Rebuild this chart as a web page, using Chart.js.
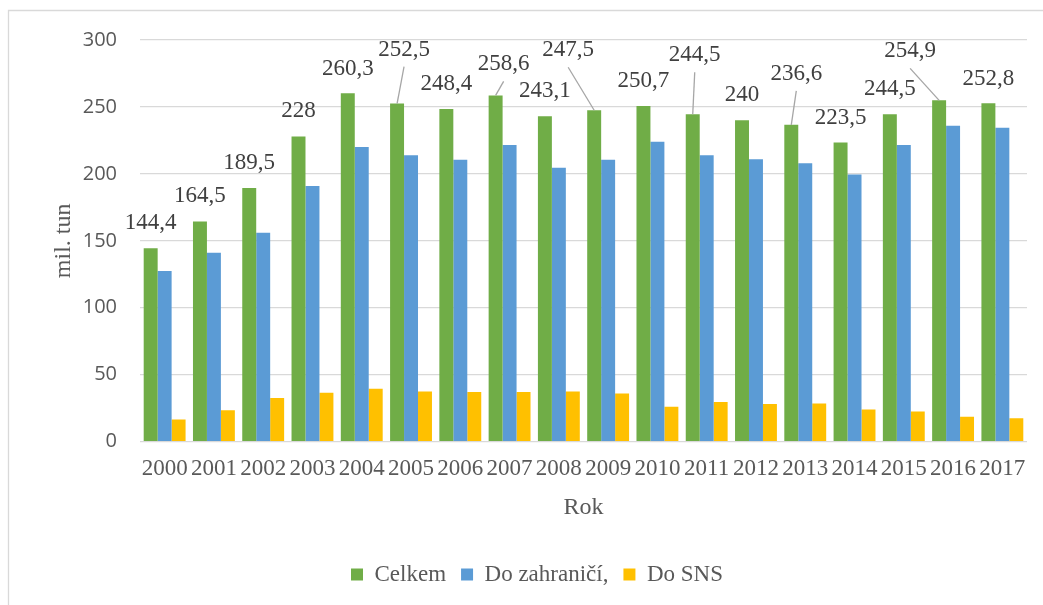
<!DOCTYPE html>
<html>
<head>
<meta charset="utf-8">
<script src="https://cdn.jsdelivr.net/npm/chart.js@4/dist/chart.umd.min.js"></script>
<style>
html,body{margin:0;padding:0;background:#fff;}
canvas{display:block;}
</style>
</head>
<body>
<canvas id="c" width="1043" height="605"></canvas>
<script>
const years = ["2000","2001","2002","2003","2004","2005","2006","2007","2008","2009","2010","2011","2012","2013","2014","2015","2016","2017"];
const celkem = [144.4,164.5,189.5,228,260.3,252.5,248.4,258.6,243.1,247.5,250.7,244.5,240,236.6,223.5,244.5,254.9,252.8];
const doZahranici = [127.5,141,156,191,220,214,210.5,221.5,204.5,210.5,224,214,211,208,199.5,221.5,236,234.5];
const doSNS = [16.5,23.5,32.5,36.5,39.5,37.5,37,37,37.5,36,26,29.5,28,28.5,24,22.5,18.5,17.5];
const yTicks = [0,50,100,150,200,250,300];
const seriesNames = ["Celkem","Do zahraničí,","Do SNS"];

// label offsets (px) relative to the top centre of each "Celkem" bar; leader = draw a leader line
const labelDx = [0,0,0,0,0,7,0,8,0,-26,0,2,0,5,0,0,-29,0];
const labelDy = [-25,-25,-25,-25,-24,-54,-25,-31,-25,-60,-25,-59,-25,-51,-24,-25,-49,-24];
const leader  = [0,0,0,0,0,1,0,1,0,1,0,1,0,1,0,0,1,0];

const SERIF = "'Liberation Serif', 'Times New Roman', serif";
const SANS = "'Open Sans', 'Liberation Sans', sans-serif";

const framePlugin = {
  id: 'frame',
  beforeDraw(chart) {
    const ctx = chart.ctx;
    ctx.save();
    ctx.strokeStyle = '#d9d9d9';
    ctx.lineWidth = 1.3;
    ctx.beginPath();
    ctx.moveTo(8.5, 700);
    ctx.lineTo(8.5, 10.5);
    ctx.lineTo(1100, 10.5);
    ctx.stroke();
    ctx.restore();
  }
};

const labelPlugin = {
  id: 'barLabels',
  afterDatasetsDraw(chart) {
    const ctx = chart.ctx;
    const meta = chart.getDatasetMeta(0);
    ctx.save();
    ctx.font = "23px " + SERIF;
    ctx.fillStyle = '#404040';
    ctx.textAlign = 'center';
    ctx.textBaseline = 'middle';
    meta.data.forEach((bar, i) => {
      const x = bar.x, y = bar.y;
      const lx = x + labelDx[i], ly = y + labelDy[i];
      if (leader[i]) {
        ctx.strokeStyle = '#a6a6a6';
        ctx.lineWidth = 1.3;
        ctx.beginPath();
        ctx.moveTo(x, y);
        ctx.lineTo(lx, ly + 17);
        ctx.stroke();
      }
      ctx.fillText(String(celkem[i]).replace('.', ','), lx, ly);
    });
    ctx.restore();
  }
};

new Chart(document.getElementById('c'), {
  type: 'bar',
  data: {
    labels: years,
    datasets: [
      {label: seriesNames[0], data: celkem, backgroundColor: '#70ad47'},
      {label: seriesNames[1], data: doZahranici, backgroundColor: '#5b9bd5'},
      {label: seriesNames[2], data: doSNS, backgroundColor: '#ffc000'}
    ]
  },
  options: {
    responsive: false,
    animation: false,
    devicePixelRatio: 1,
    datasets: {bar: {categoryPercentage: 0.85, barPercentage: 1.0}},
    layout: {padding: {top: 40, left: 47, right: 16, bottom: 9}},
    plugins: {
      tooltip: {enabled: false},
      legend: {
        position: 'bottom',
        labels: {
          boxWidth: 12, boxHeight: 12, padding: 15,
          color: '#595959',
          font: {family: SERIF, size: 23}
        }
      }
    },
    scales: {
      x: {
        grid: {display: false, drawTicks: false},
        border: {display: false},
        ticks: {
          autoSkip: false, maxRotation: 0, padding: 14,
          color: '#595959', font: {family: SERIF, size: 23}
        },
        title: {
          display: true, text: 'Rok', color: '#595959',
          font: {family: SERIF, size: 24},
          padding: {top: -4, bottom: 26}
        }
      },
      y: {
        min: 0, max: 300,
        afterBuildTicks(scale) { scale.ticks = yTicks.map(v => ({value: v})); },
        afterFit(scale) { scale.width = 93; },
        grid: {color: '#d9d9d9', lineWidth: 1.3, drawTicks: false},
        border: {display: false},
        ticks: {
          padding: 23, color: '#595959',
          font: {family: SANS, size: 20}
        },
        title: {
          display: true, text: 'mil. tun', color: '#595959',
          font: {family: SERIF, size: 24},
          padding: {top: 2, bottom: 0}
        }
      }
    }
  },
  plugins: [framePlugin, labelPlugin]
});
</script>
</body>
</html>
